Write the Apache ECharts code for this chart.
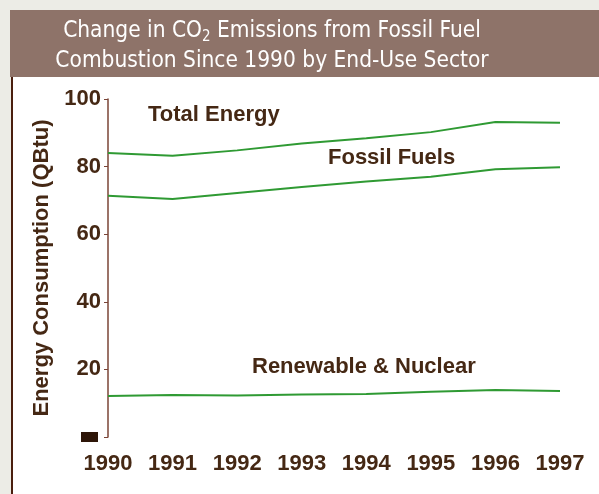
<!DOCTYPE html>
<html><head><meta charset="utf-8">
<script src="https://cdn.jsdelivr.net/npm/echarts@6/dist/echarts.min.js"></script>
<style>html,body{margin:0;padding:0;background:#ecece6;}#c{width:599px;height:494px;}</style>
</head><body><div id="c"></div>
<script>
const years = ['1990','1991','1992','1993','1994','1995','1996','1997'];
const totalEnergy = [84.0, 83.2, 84.8, 86.8, 88.4, 90.2, 93.2, 93.0];
const fossilFuels = [71.4, 70.4, 72.2, 74.0, 75.6, 77.0, 79.2, 79.8];
const renewableNuclear = [12.1, 12.4, 12.3, 12.6, 12.7, 13.4, 13.9, 13.6];
const yTicks = [0, 20, 40, 60, 80, 100];
const seriesNames = ['Total Energy', 'Fossil Fuels', 'Renewable & Nuclear'];

const chart = echarts.init(document.getElementById('c'), null, {renderer: 'canvas'});
const textCol = '#452814';
const FS = 22;
const titleFont = 'DejaVu Sans Condensed, Liberation Sans Narrow, Liberation Sans, sans-serif';
const lbl = {fontFamily: 'Liberation Sans, Arial, sans-serif', fontWeight: 'bold', fontSize: FS, fill: textCol};
const mk = (name, data) => ({
  name, type: 'line', data, symbol: 'none', smooth: false,
  lineStyle: {color: '#2f9a33', width: 2}, silent: true
});
chart.setOption({
  backgroundColor: '#ecece6',
  animation: false,
  grid: {left: 108, right: 39, top: 99, bottom: 57, containLabel: false},
  graphic: [
    {type: 'rect', shape: {x: 12, y: 77, width: 600, height: 430}, style: {fill: '#ffffff'}, z: -10},
    {type: 'rect', shape: {x: 11, y: 77, width: 2, height: 430}, style: {fill: '#4a1e0e'}, z: -9},
    {type: 'rect', shape: {x: 10, y: 10, width: 600, height: 67}, style: {fill: '#8e7369'}, z: -10},
    {type: 'text', x: 272, y: 31, style: {
      text: 'Change in CO{s|2} Emissions from Fossil Fuel',
      fontFamily: titleFont, fontSize: 22.5, fill: '#ffffff', align: 'center', verticalAlign: 'middle',
      rich: {s: {fontSize: 15, fill: '#ffffff', padding: [12, 0, 0, 0], fontFamily: titleFont}}
    }},
    {type: 'text', x: 272, y: 61, style: {
      text: 'Combustion Since 1990 by End-Use Sector',
      fontFamily: titleFont, fontSize: 22.5, fill: '#ffffff', align: 'center', verticalAlign: 'middle'
    }},
    {type: 'text', x: 148, y: 115, style: Object.assign({text: seriesNames[0], verticalAlign: 'middle'}, lbl)},
    {type: 'text', x: 328, y: 158, style: Object.assign({text: seriesNames[1], verticalAlign: 'middle'}, lbl)},
    {type: 'text', x: 252, y: 367, style: Object.assign({text: seriesNames[2], verticalAlign: 'middle'}, lbl)}
  ],
  xAxis: {
    type: 'category', data: years, boundaryGap: false,
    axisLine: {show: false}, axisTick: {show: false},
    axisLabel: {color: textCol, fontFamily: 'Liberation Sans, Arial, sans-serif', fontWeight: 'bold', fontSize: FS, margin: 16}
  },
  yAxis: {
    type: 'value', min: yTicks[0], max: yTicks[yTicks.length - 1], interval: 20,
    name: 'Energy Consumption (QBtu)', nameLocation: 'middle', nameGap: 53,
    nameTextStyle: {color: textCol, fontFamily: 'Liberation Sans, Arial, sans-serif', fontWeight: 'bold', fontSize: FS},
    splitLine: {show: false},
    axisLine: {show: true, lineStyle: {color: '#7a4436', width: 1.5}},
    axisTick: {show: true, length: 4, lineStyle: {color: '#7a4436'}},
    axisLabel: {
      color: textCol, fontFamily: 'Liberation Sans, Arial, sans-serif', fontWeight: 'bold', fontSize: FS, margin: 7,
      formatter: v => v === 0 ? '{b|}{sp|}' : String(v),
      rich: {b: {width: 17, height: 10, backgroundColor: '#2e1608', verticalAlign: 'top'}, sp: {width: 3, height: 10}}
    }
  },
  series: [mk(seriesNames[0], totalEnergy), mk(seriesNames[1], fossilFuels), mk(seriesNames[2], renewableNuclear)]
});
</script></body></html>
